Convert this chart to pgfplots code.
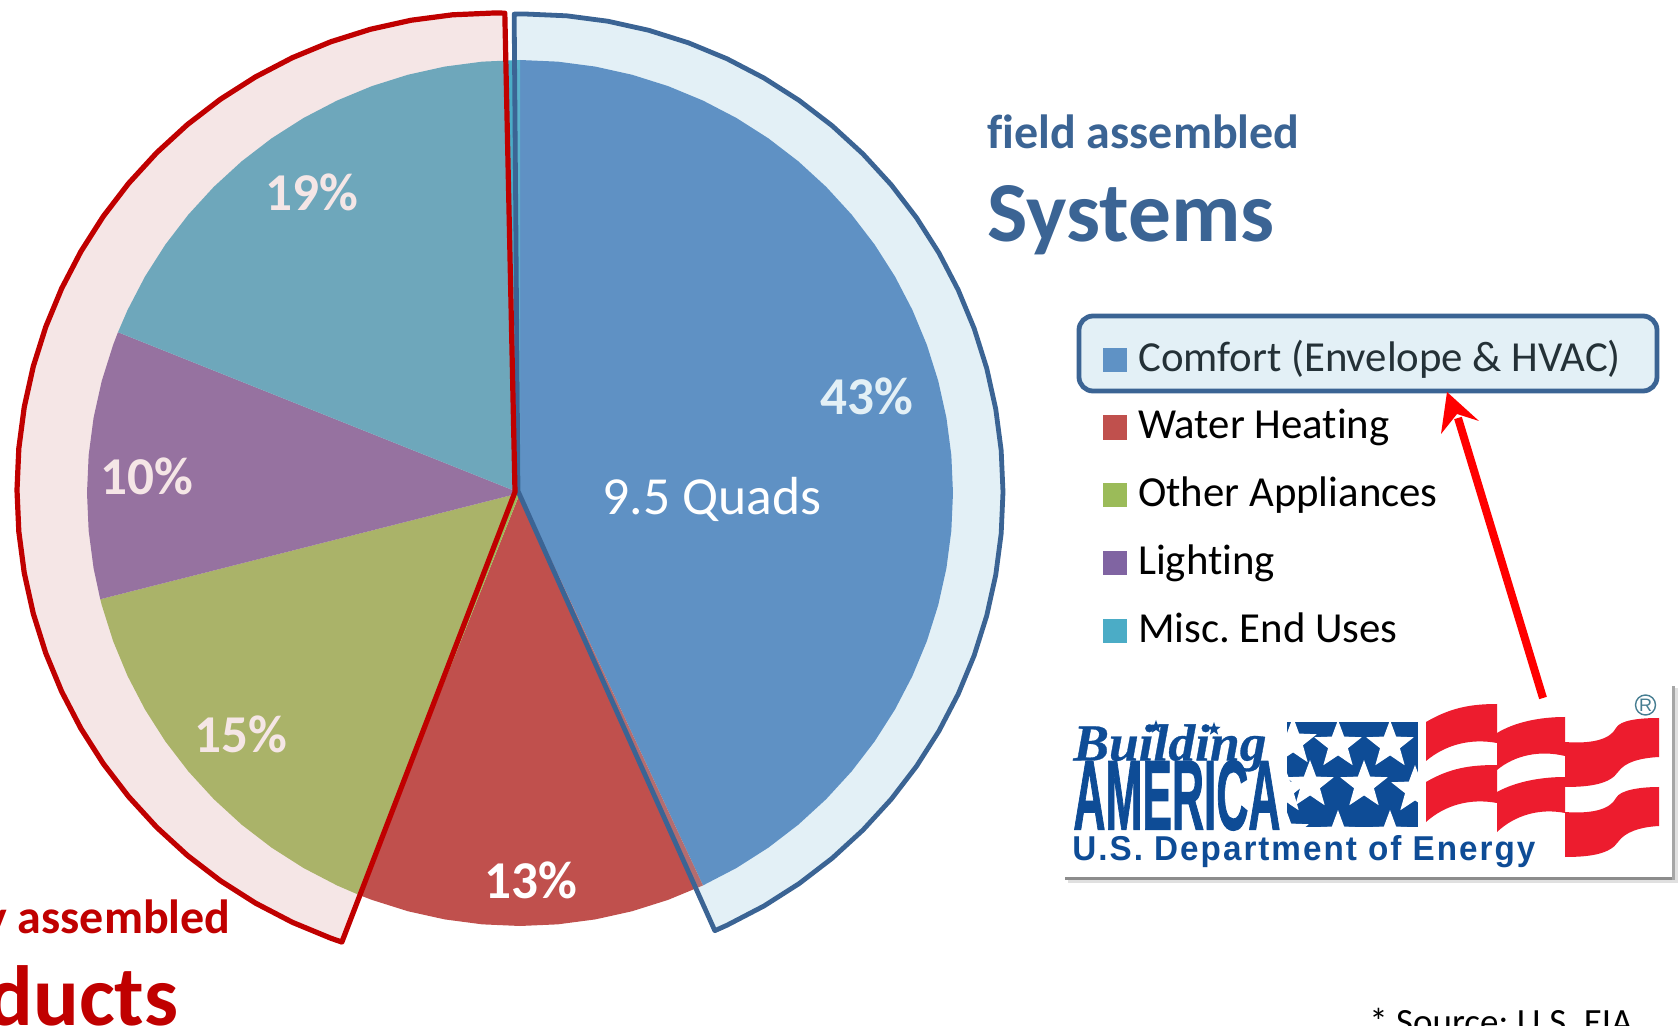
\documentclass[border=0pt]{standalone}
\usepackage{pgfplots}
\pgfplotsset{compat=1.18}
\usepackage{pgfplotstable}
\usepackage{graphicx}
\usepackage{fontspec}
\setmainfont[Ligatures=NoCommon]{Carlito}
\newfontfamily\arialf{Liberation Sans}
\newfontfamily\heavyf[FakeBold=1.5]{Liberation Sans Bold}
\newfontfamily\spacedf[LetterSpace=6]{Liberation Sans Bold}
\newfontfamily\timesf[FakeBold=0.6]{Liberation Serif Bold Italic}
\usetikzlibrary{shapes.geometric}
\frenchspacing
\definecolor{cComfort}{RGB}{79,129,189}
\definecolor{cComfortL}{RGB}{95,146,197}
\definecolor{cWater}{RGB}{192,80,77}
\definecolor{cOther}{RGB}{155,187,89}
\definecolor{cLight}{RGB}{128,100,162}
\definecolor{cMisc}{RGB}{75,172,198}
\definecolor{ovRed}{RGB}{216,156,156}
\definecolor{ovBlue}{RGB}{144,196,220}
\definecolor{lnRed}{RGB}{192,0,0}
\definecolor{lnBlue}{RGB}{59,100,148}
\definecolor{logoBlue}{RGB}{14,76,150}
\definecolor{logoRed}{RGB}{237,28,46}
\definecolor{regMark}{RGB}{70,125,145}
\pgfplotstableread[row sep=\\]{a r\\0 0\\90 433\\85 433\\80 433\\75 433\\70 433\\65 433\\60 433\\55 433\\50 433\\45 433\\40 433\\35 433\\30 433\\25 433\\20 433\\15 433\\10 433\\5 433\\0 433\\-5 433\\-10 433\\-15 433\\-20 433\\-25 433\\-30 433\\-35 433\\-40 433\\-45 433\\-50 433\\-55 433\\-60 433\\-65 433\\}\tComfort
\pgfplotstableread[row sep=\\]{a r\\0 0\\-65 433\\-70 433\\-75 433\\-80 433\\-85 433\\-90 433\\-95 433\\-100 433\\-105 433\\-110 433\\-111.8 433\\}\tWater
\pgfplotstableread[row sep=\\]{a r\\0 0\\-111.8 433\\-115 433\\-120 433\\-125 433\\-130 433\\-135 433\\-140 433\\-145 433\\-150 433\\-155 433\\-160 433\\-165 433\\-165.8 433\\}\tOther
\pgfplotstableread[row sep=\\]{a r\\0 0\\-165.8 433\\-170 433\\-175 433\\-180 433\\-185 433\\-190 433\\-195 433\\-200 433\\-201.8 433\\}\tLight
\pgfplotstableread[row sep=\\]{a r\\0 0\\-201.8 433\\-205 433\\-210 433\\-215 433\\-220 433\\-225 433\\-230 433\\-235 433\\-240 433\\-245 433\\-250 433\\-255 433\\-260 433\\-265 433\\-270 433\\}\tMisc
\pgfplotstableread[row sep=\\]{a r\\-5.4 21.1\\88.7 477\\90 477\\95 477\\100 477\\105 477\\110 477\\115 477\\120 477\\125 477\\130 477\\135 477\\140 477\\145 477\\150 477\\155 477\\160 477\\165 477\\170 477\\175 477\\180 477\\185 477\\190 477\\195 477\\200 477\\205 477\\210 477\\215 477\\220 477\\225 477\\230 477\\235 477\\240 477\\245 477\\250 477\\251.4 477\\}\tRingRed
\pgfplotstableread[row sep=\\]{a r\\172 7.1\\91.3 478\\90 478\\85 478\\80 478\\75 478\\70 478\\65 478\\60 478\\55 478\\50 478\\45 478\\40 478\\35 478\\30 478\\25 478\\20 478\\15 478\\10 478\\5 478\\0 478\\-5 478\\-10 478\\-15 478\\-20 478\\-25 478\\-30 478\\-35 478\\-40 478\\-45 478\\-50 478\\-55 478\\-60 478\\-65 478\\-66.6 478\\}\tRingBlue
\pgfplotsset{/pgfplots/table/pol/.style 2 args={x expr={#1+\thisrow{r}*cos(\thisrow{a})},y expr={#2-\thisrow{r}*sin(\thisrow{a})}}}
\newcommand\fs[1]{\fontsize{#1}{#1}\selectfont}
\pgfplotsset{swatch/.style={legend image code/.code={\fill[#1] (0pt,-4.5pt) rectangle (12pt,7.5pt);}}}
\tikzset{lstar/.style={star,star points=5,star point ratio=2.4,fill=white,inner sep=0pt,minimum size=25pt}}
\begin{document}
\begin{tikzpicture}
\path[use as bounding box,clip] (0,0) rectangle (839pt,513pt);
\begin{axis}[
  at={(0,0)},anchor=south west,scale only axis,width=839pt,height=513pt,
  xmin=0,xmax=1678,ymin=0,ymax=1026,y dir=reverse,hide axis,clip=false,
  legend cell align=left,
  legend style={at={(axis cs:1103,344)},anchor=north west,draw=none,fill=none,inner sep=0pt,outer sep=0pt,
    row sep=15.5pt,
    nodes={font=\fs{21.4},text height=13.5pt,text depth=5pt,inner sep=0pt,outer sep=0pt,anchor=west},
    /tikz/column 1/.style={column sep=5.6pt}},
]
% legend highlight box
\draw[lnBlue,line width=2.4pt,fill=ovBlue!25!white,rounded corners=7pt] (1079,316) rectangle (1657,391);
% wedges
\addplot[fill=cComfort,draw=none,swatch={cComfortL}] table[pol={520}{493}] {\tComfort} --cycle;
\addlegendentry{\textcolor[RGB]{36,49,55}{Comfort (Envelope \& HVAC)}}
\addplot[fill=cWater,draw=none,swatch={cWater}] table[pol={520}{493}] {\tWater} --cycle;
\addlegendentry{Water Heating}
\addplot[fill=cOther,draw=none,swatch={cOther}] table[pol={520}{493}] {\tOther} --cycle;
\addlegendentry{Other Appliances}
\addplot[fill=cLight,draw=none,swatch={cLight}] table[pol={520}{493}] {\tLight} --cycle;
\addlegendentry{Lighting}
\addplot[fill=cMisc,draw=none,swatch={cMisc}] table[pol={520}{493}] {\tMisc} --cycle;
\addlegendentry{Misc. End Uses}
% rings
\addplot[forget plot,fill=ovBlue,fill opacity=.25,draw=lnBlue,draw opacity=1,line width=2.4pt,line join=round] table[pol={525}{492}] {\tRingBlue} --cycle;
\addplot[forget plot,fill=ovRed,fill opacity=.25,draw=lnRed,draw opacity=1,line width=2.6pt,line join=round] table[pol={494}{490}] {\tRingRed} --cycle;
% data labels
\node[text=white!75!ovBlue,font=\fs{26.6}\bfseries] at (867,396) {43\%};
\node[text=white,font=\fs{26.6}\bfseries] at (531,880) {13\%};
\node[text=white!75!ovRed,font=\fs{26.6}\bfseries] at (241,734) {15\%};
\node[text=white!75!ovRed,font=\fs{26.6}\bfseries] at (147,476) {10\%};
\node[text=white!75!ovRed,font=\fs{26.6}\bfseries] at (312,192) {19\%};
\node[text=white,font=\fs{26.8}] at (712,499) {9.5 Quads};
% headings
\node[anchor=base west,inner sep=0pt,text=lnBlue,font=\fs{24}\bfseries] at (987,149) {field assembled};
\node[anchor=base west,inner sep=0pt,text=lnBlue,font=\fs{42.7}\bfseries] at (987,242) {Systems};
\node[anchor=base east,inner sep=0pt,text=lnRed,font=\fs{24}\bfseries] at (231,933) {factory assembled};
\node[anchor=base east,inner sep=0pt,text=lnRed,font=\fs{42.7}\bfseries] at (179,1025) {Products};
\node[anchor=base west,inner sep=0pt,font=\fs{18.5}] at (1369,1034) {* Source: U.S. EIA};
% logo
\fill[black!12] (1068,877) rectangle (1678,883);
\fill[black!45] (1065,877) rectangle (1676,880);
\fill[black!12] (1672,688) rectangle (1678,883);
\fill[black!35] (1672,686) rectangle (1675,880);
\fill[white] (1062,685) rectangle (1672,877);
\begin{scope}
\clip (1287,722) rectangle (1418,827);
\fill[logoBlue] (1287,722) rectangle (1418,827);
\node[lstar] at (1338,745) {};
\node[lstar] at (1390,745) {};
\node[lstar] at (1293,742) {};
\node[lstar] at (1310,785) {};
\node[lstar] at (1364,785) {};
\node[lstar] at (1415,790) {};
\node[lstar] at (1284,790) {};
\node[lstar] at (1338,835) {};
\node[lstar] at (1390,835) {};
\node[lstar] at (1285,832) {};
\end{scope}
\fill[logoRed] (1426,722) .. controls (1450,708) and (1470,704) .. (1497,704) -- (1497,743) .. controls (1470,738) and (1445,745) .. (1426,761) -- cycle;
\fill[logoRed] (1426,782) .. controls (1450,768) and (1470,765) .. (1497,765) -- (1497,803) .. controls (1470,798) and (1445,805) .. (1426,822) -- cycle;
\fill[logoRed] (1497,733) .. controls (1515,722) and (1540,717) .. (1565,717) -- (1565,756) .. controls (1540,750) and (1515,755) .. (1497,770) -- cycle;
\fill[logoRed] (1497,792) .. controls (1515,782) and (1540,777) .. (1565,777) -- (1565,813) .. controls (1540,808) and (1515,815) .. (1497,832) -- cycle;
\fill[logoRed] (1565,742) .. controls (1590,744) and (1610,740) .. (1616,728) .. controls (1620,720) and (1640,718) .. (1659,718) -- (1659,757) .. controls (1640,758) and (1625,762) .. (1618,772) .. controls (1610,784) and (1590,787) .. (1565,787) -- cycle;
\fill[logoRed] (1565,812) .. controls (1590,814) and (1610,810) .. (1616,798) .. controls (1620,790) and (1640,787) .. (1659,787) -- (1659,826) .. controls (1640,827) and (1625,832) .. (1618,842) .. controls (1610,854) and (1590,857) .. (1565,857) -- cycle;
\draw[regMark,line width=.7pt] (1645.5,705) circle[radius=10];
\node[text=regMark,font=\arialf\fs{9},inner sep=0pt] at (1645.5,705) {R};
\node[anchor=north west,inner sep=0pt,text=logoBlue] at (1073,724) {\resizebox{96.5pt}{18pt}{\timesf Building}};
\node[star,star points=5,star point ratio=2.4,fill=logoBlue,inner sep=0pt,minimum size=7pt] at (1156,727) {};
\node[star,star points=5,star point ratio=2.4,fill=logoBlue,inner sep=0pt,minimum size=7pt] at (1214,729) {};
\node[anchor=north west,inner sep=0pt,text=logoBlue] at (1073,760) {\resizebox{103.5pt}{34.5pt}{\heavyf AMERICA}};
\node[anchor=north west,inner sep=0pt,text=logoBlue] at (1072,835) {\resizebox{231.5pt}{12.5pt}{\spacedf U.S. Department of Energy}};
% arrow
\addplot[forget plot,draw=red,line width=4pt] coordinates {(1543,698) (1458,418)};
\addplot[forget plot,fill=red,draw=none] coordinates {(1447,392) (1479,421) (1457,414) (1441,434)} --cycle;
\end{axis}
\end{tikzpicture}
\end{document}
